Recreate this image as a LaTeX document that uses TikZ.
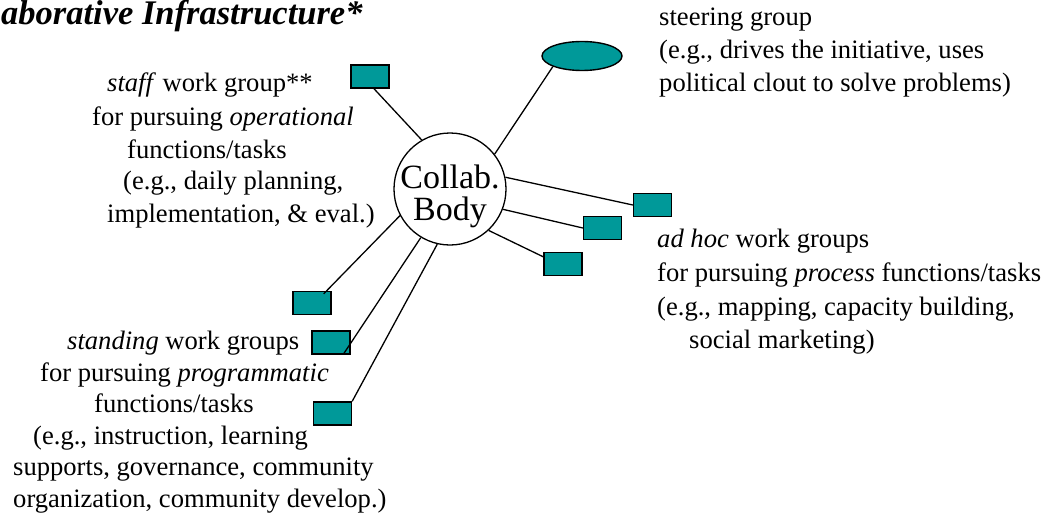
\documentclass[tikz,border=0pt]{standalone}
\usepackage{fontspec}
\setmainfont{Liberation Serif}
\usetikzlibrary{shapes.geometric,calc}
\definecolor{tealbox}{HTML}{009999}
\begin{document}
\begin{tikzpicture}[x=1pt,y=-1pt,
  txt/.style={anchor=base west,inner sep=0pt,font=\fontsize{26.6}{33}\selectfont},
  wgbox/.style={draw=black,fill=tealbox,line width=1.4pt,minimum width=38pt,minimum height=23pt,inner sep=0pt},
  conn/.style={draw=black,line width=1.3pt}]
\useasboundingbox (0,0) rectangle (1056,516);
% title
\node[txt,font=\fontsize{34.5}{40}\selectfont\bfseries\itshape] (title) at (1,25) {aborative Infrastructure*};
% centre
\node[circle,draw=black,line width=1.3pt,minimum size=112pt,inner sep=0pt] (circ) at (450,189) {};
\node[inner sep=0pt,align=center,font=\fontsize{34}{32}\selectfont] (circlbl) at ([yshift=-7pt]circ.center) {Collab.\\Body};
% steering
\node[ellipse,draw=black,fill=tealbox,line width=1.4pt,minimum width=80pt,minimum height=29pt,inner sep=0pt] (ell) at (582,56) {};
% boxes
\node[wgbox] (staff) at (370,76.5) {};
\node[wgbox] (r1) at (652.5,205) {};
\node[wgbox] (r2) at (602.5,228) {};
\node[wgbox] (r3) at (563,264) {};
\node[wgbox] (r4) at (312,303) {};
\node[wgbox] (r5) at (331,342.5) {};
\node[wgbox] (r6) at (332.5,413.5) {};
% connectors
\draw[conn] (circ.120) -- (staff.-72);
\draw[conn] (circ.38) -- (ell.200);
\draw[conn] (circ.12) -- (r1.west);
\draw[conn] (circ.-21) -- (r2.west);
\draw[conn] (circ.-47) -- (r3.160);
\draw[conn] (circ.208) -- ($(r4.north east)+(-8,3)$);
\draw[conn] (circ.-121) -- ($(r5.south east)+(-7,-1)$);
\draw[conn] (circ.-103) -- (r6.north east);
% steering text
\node[txt] (s1) at (659,26) {steering group};
\node[txt] (s2) at (659,59) {(e.g., drives the initiative, uses};
\node[txt] (s3) at (659,92) {political clout to solve problems)};
% staff text
\node[txt] (f1) at (107,92) {\textit{staff} work group**};
\node[txt] (f2) at (92,125) {for pursuing \textit{operational}};
\node[txt] (f3) at (127,158) {functions/tasks};
\node[txt] (f4) at (123,189) {(e.g., daily planning,};
\node[txt] (f5) at (107,222) {implementation, \& eval.)};
% ad hoc text
\node[txt] (a1) at (657,247) {\textit{ad hoc} work groups};
\node[txt] (a2) at (657,281) {for pursuing \textit{process} functions/tasks};
\node[txt] (a3) at (657,315) {(e.g., mapping, capacity building,};
\node[txt] (a4) at (689,348) {social marketing)};
% standing text
\node[txt] (g1) at (67,349) {\textit{standing} work groups};
\node[txt] (g2) at (40,381) {for pursuing \textit{programmatic}};
\node[txt] (g3) at (94,412) {functions/tasks};
\node[txt] (g4) at (33,444) {(e.g., instruction, learning};
\node[txt] (g5) at (13,475) {supports, governance, community};
\node[txt] (g6) at (13,507) {organization, community develop.)};
\end{tikzpicture}
\end{document}
